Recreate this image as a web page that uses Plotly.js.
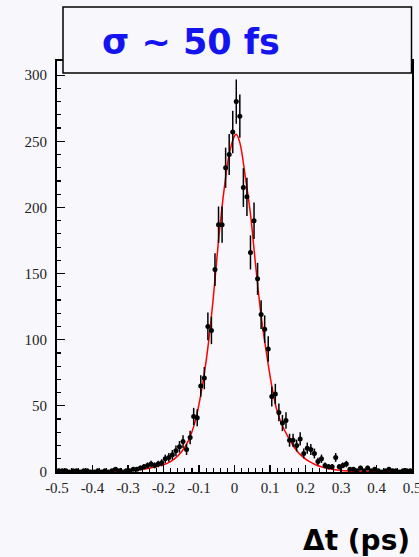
<!DOCTYPE html>
<html>
<head>
<meta charset="utf-8">
<script src="https://cdn.plot.ly/plotly-3.0.1.min.js"></script>
<style>
  html, body { margin: 0; padding: 0; background: #f8f8fc; }
  #chart { width: 419px; height: 557px; }
</style>
</head>
<body>
<div id="chart"></div>
<script>
// Bin centres of the Δt histogram (ps)
var binCenters = [
  -0.495,-0.485,-0.475,-0.465,-0.455,-0.445,-0.435,-0.425,-0.415,-0.405,
  -0.395,-0.385,-0.375,-0.365,-0.355,-0.345,-0.335,-0.325,-0.315,-0.305,
  -0.295,-0.285,-0.275,-0.265,-0.255,-0.245,-0.235,-0.225,-0.215,-0.205,
  -0.195,-0.185,-0.175,-0.165,-0.155,-0.145,-0.135,-0.125,-0.115,-0.105,
  -0.095,-0.085,-0.075,-0.065,-0.055,-0.045,-0.035,-0.025,-0.015,-0.005,
   0.005, 0.015, 0.025, 0.035, 0.045, 0.055, 0.065, 0.075, 0.085, 0.095,
   0.105, 0.115, 0.125, 0.135, 0.145, 0.155, 0.165, 0.175, 0.185, 0.195,
   0.205, 0.215, 0.225, 0.235, 0.245, 0.255, 0.265, 0.275, 0.285, 0.295,
   0.305, 0.315, 0.325, 0.335, 0.345, 0.355, 0.365, 0.375, 0.385, 0.395,
   0.405, 0.415, 0.425, 0.435, 0.445, 0.455, 0.465, 0.475, 0.485, 0.495
];
// Entries per bin
var binCounts = [
  1,1,1,0,1,1,0,1,1,0,
  0,1,0,1,0,1,2,1,0,1,
  1,2,2,3,4,5,6,5,6,7,
  10,11,13,16,19,23,17,26,42,41,
  65,71,110,107,153,187,187,230,240,257,
  280,269,215,208,166,190,146,119,108,93,
  57,59,45,37,39,24,24,20,25,14,
  18,17,14,8,10,5,4,4,11,4,
  5,6,2,2,1,3,1,3,1,2,
  1,0,1,2,1,1,0,1,1,1
];
// Fit curve
var fitX = [-0.50,-0.45,-0.40,-0.35,-0.30,-0.27,-0.24,-0.21,-0.19,-0.17,-0.15,-0.13,-0.11,-0.09,-0.075,-0.06,-0.045,-0.03,-0.015,0.0,0.005,0.015,0.03,0.045,0.06,0.075,0.09,0.105,0.12,0.135,0.15,0.17,0.19,0.21,0.23,0.25,0.27,0.30,0.35,0.40,0.45,0.50];
var fitY = [0.0,0.1,0.2,0.5,1.1,1.8,2.9,4.8,6.5,9.8,15,23.5,39,66,94,131,175,212,240,254,255.3,249,224,195,155,118,90,65,46,35,27,18,12,8,5.3,3.5,2.2,1.2,0.5,0.25,0.1,0.0];

var xTickVals = [-0.5,-0.4,-0.3,-0.2,-0.1,0,0.1,0.2,0.3,0.4,0.5];
var xTickText = ["-0.5","-0.4","-0.3","-0.2","-0.1","0","0.1","0.2","0.3","0.4","0.5"];
var yTickVals = [0,50,100,150,200,250,300];
var yTickText = ["0","50","100","150","200","250","300"];

var boxLabel = "σ ~ 50 fs";
var xLabel = "Δt (ps)";

var errors = binCounts.map(function(v){ return Math.sqrt(v); });

var dataPoints = {
  type: 'scatter', mode: 'markers',
  x: binCenters, y: binCounts,
  marker: {color: '#000000', size: 5, symbol: 'circle'},
  error_y: {type: 'data', array: errors, visible: true, color: '#000000', thickness: 1.5, width: 0},
  showlegend: false, hoverinfo: 'skip'
};
var fitLine = {
  type: 'scatter', mode: 'lines',
  x: fitX, y: fitY,
  line: {color: '#ff0000', width: 1.5, shape: 'spline', smoothing: 1},
  showlegend: false, hoverinfo: 'skip'
};

var tickFont = {family: '"Liberation Serif", "Times New Roman", serif', size: 15, color: '#222222'};

var layout = {
  width: 419, height: 557,
  margin: {l: 57, r: 6.5, t: 61, b: 85.3},
  paper_bgcolor: '#f8f8fc',
  plot_bgcolor: '#f8f8fc',
  showlegend: false,
  xaxis: {
    range: [-0.5, 0.5], tickmode: 'array', tickvals: xTickVals, ticktext: xTickText,
    ticks: 'inside', ticklen: 7, tickwidth: 1.2, tickcolor: '#000',
    minor: {ticks: 'inside', dtick: 0.02, tick0: 0, ticklen: 4, tickwidth: 1.2, tickcolor: '#000'},
    showline: true, linecolor: '#000', linewidth: 2, mirror: true,
    showgrid: false, zeroline: false, tickfont: tickFont, ticklabelstandoff: 1,
    ticklabeloverflow: 'allow'
  },
  yaxis: {
    range: [0, 310.7], tickmode: 'array', tickvals: yTickVals, ticktext: yTickText,
    ticks: 'inside', ticklen: 8, tickwidth: 1.2, tickcolor: '#000',
    minor: {ticks: 'inside', dtick: 10, tick0: 0, ticklen: 4, tickwidth: 1.2, tickcolor: '#000'},
    showline: true, linecolor: '#000', linewidth: 2, mirror: true,
    showgrid: false, zeroline: false, tickfont: tickFont, ticklabelstandoff: 5,
    ticklabeloverflow: 'allow'
  },
  shapes: [{
    type: 'rect', xref: 'paper', yref: 'paper', layer: 'above',
    x0: 0.0169, x1: 0.9986, y0: 0.9708, y1: 1.1315,
    fillcolor: '#f8f8fc', line: {color: '#000', width: 1.5}
  }],
  annotations: [
    {xref: 'paper', yref: 'paper', x: 0.121, y: 1.046, xanchor: 'left', yanchor: 'middle',
     text: '<b>' + boxLabel + '</b>', showarrow: false,
     font: {family: '"DejaVu Sans", sans-serif', size: 35, color: '#1414f0'}},
    {xref: 'paper', yref: 'paper', x: 0.9986, y: -0.166, xanchor: 'right', yanchor: 'middle',
     text: '<b>' + xLabel + '</b>', showarrow: false,
     font: {family: '"DejaVu Sans", sans-serif', size: 28, color: '#000000'}}
  ]
};

Plotly.newPlot('chart', [fitLine, dataPoints], layout, {displayModeBar: false, staticPlot: true});
</script>
</body>
</html>
